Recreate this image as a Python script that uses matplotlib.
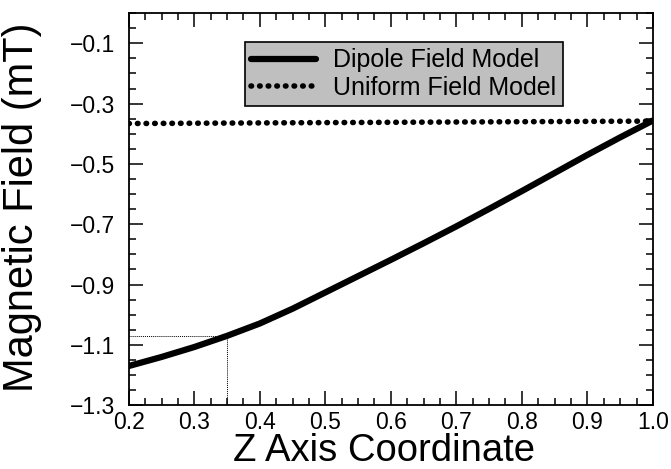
import numpy as np
import matplotlib.pyplot as plt
from matplotlib.ticker import MultipleLocator, FuncFormatter

plt.rcParams['font.family'] = ['Liberation Sans', 'DejaVu Sans']

# values
z = [0.2, 0.25, 0.3, 0.35, 0.4, 0.45, 0.5, 0.55, 0.6,
     0.65, 0.7, 0.75, 0.8, 0.85, 0.9, 0.95, 1.0]
dipole = [-1.170, -1.140, -1.107, -1.070, -1.029, -0.980, -0.926, -0.872, -0.818,
          -0.763, -0.707, -0.649, -0.590, -0.530, -0.470, -0.412, -0.356]
uniform_z = [0.2, 1.0]
uniform = [-0.366, -0.358]
mark_z = 0.35
mark_b = -1.070


def minus_fmt(v, pos):
    return '%.1f' % v if v >= 0 else '\u2212%.1f' % abs(v)


fig = plt.figure(figsize=(6.71, 4.69), dpi=100)
ax = fig.add_axes([0.192, 0.136, 0.781, 0.836])

ax.plot(z, dipole, color='black', lw=4.5, solid_capstyle='round',
        solid_joinstyle='round', label='Dipole Field Model')
ax.plot(uniform_z, uniform, color='black', lw=4, ls=(0, (0.1, 1.45)),
        dash_capstyle='round', label='Uniform Field Model')
ax.plot([0.2, mark_z], [mark_b, mark_b], color='black', lw=0.7, ls=(0, (1, 1)))
ax.plot([mark_z, mark_z], [-1.3, mark_b], color='black', lw=0.7, ls=(0, (1, 1)))

ax.set_xlim(0.2, 1.0)
ax.set_ylim(-1.3, 0.0)
ax.xaxis.set_major_locator(MultipleLocator(0.1))
ax.xaxis.set_minor_locator(MultipleLocator(0.025))
ax.set_yticks(np.arange(-1.3, 0.0, 0.2))
ax.yaxis.set_minor_locator(MultipleLocator(0.05))
ax.xaxis.set_major_formatter(FuncFormatter(minus_fmt))
ax.yaxis.set_major_formatter(FuncFormatter(minus_fmt))
ax.tick_params(which='both', direction='in', top=True, right=True, width=1.1)
ax.tick_params(which='major', length=10, labelsize=16.5)
ax.tick_params(axis='x', which='major', pad=4)
ax.tick_params(axis='y', which='major', pad=10)
ax.tick_params(which='minor', length=5)
for s in ax.spines.values():
    s.set_linewidth(1.3)

fig.text(0.572, 0.0171, 'Z Axis Coordinate', fontsize=27.5, ha='center', va='baseline')
fig.text(0.033, 0.558, 'Magnetic Field (mT)', fontsize=30, rotation=90,
         ha='center', va='center')

leg = ax.legend(loc='upper left', bbox_to_anchor=(0.221, 0.926), fontsize=18,
                frameon=True, fancybox=False, handlelength=2.6, handletextpad=0.7,
                borderpad=0.25, labelspacing=0.15, borderaxespad=0)
leg.get_frame().set_facecolor('#bfbfbf')
leg.get_frame().set_edgecolor('black')
leg.get_frame().set_linewidth(1.2)
leg.get_frame().set_alpha(1)

fig.savefig('out.png', dpi=100)
